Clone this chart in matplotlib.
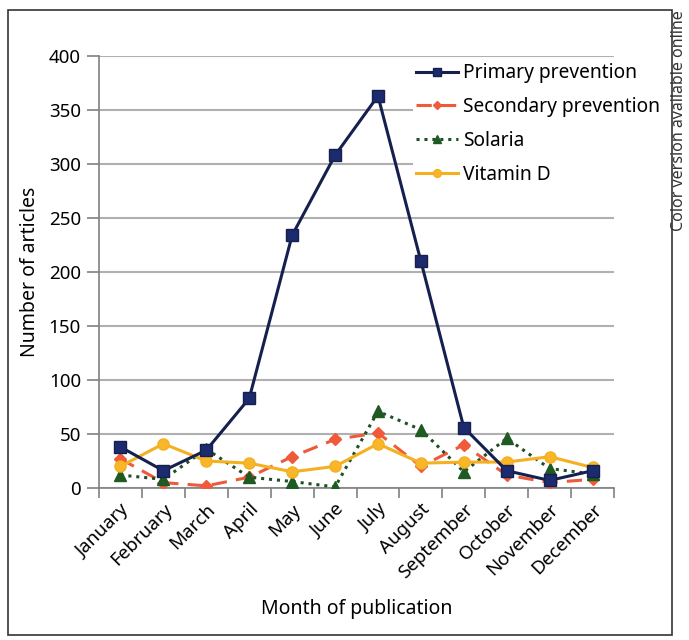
import numpy as np
import matplotlib
matplotlib.use('Agg')
import matplotlib.pyplot as plt
from matplotlib.patches import Rectangle

plt.rcParams['font.family'] = ['Noto Sans', 'DejaVu Sans']

months = ['January', 'February', 'March', 'April', 'May', 'June', 'July',
          'August', 'September', 'October', 'November', 'December']
primary = [38, 16, 35, 83, 234, 308, 363, 210, 56, 16, 7, 16]
secondary = [27, 5, 2, 10, 29, 45, 51, 20, 40, 12, 5, 8]
solaria = [12, 8, 36, 10, 6, 1, 71, 54, 15, 46, 18, 13]
vitamin_d = [20, 41, 25, 23, 15, 20, 41, 23, 24, 24, 29, 19]

fig = plt.figure(figsize=(6.89, 6.4), dpi=100)
ax = fig.add_axes([0.1437, 0.2375, 0.7475, 0.675])

x = np.arange(len(months))
ax.plot(x, primary, color='#15204f', lw=2.2, marker='s', ms=8,
        mfc='#1c2a6e', mec='#15204f', label='Primary prevention', zorder=4)
ax.plot(x, secondary, color='#ee5a3a', lw=2.2, ls=(0, (5, 3)), marker='D', ms=6,
        mfc='#ee5a3a', mec='#ee5a3a', label='Secondary prevention', zorder=3)
ax.plot(x, solaria, color='#1f4f24', lw=2.2, ls=(0, (1, 1.6)), marker='^', ms=8,
        mfc='#1e5a22', mec='#1e5a22', label='Solaria', zorder=3)
ax.plot(x, vitamin_d, color='#f5b020', lw=2.2, marker='o', ms=8,
        mfc='#f8b62a', mec='#f5b020', label='Vitamin D', zorder=3)

ax.set_xlim(-0.5, len(months) - 0.5)
ax.set_ylim(0, 400)
ax.set_yticks(np.arange(0, 401, 50))
ax.yaxis.grid(True, color='#b0b0b0', lw=1.5)
ax.set_axisbelow(True)

ax.set_xticks(x)
ax.set_xticklabels(months, rotation=45, ha='right', rotation_mode='anchor', fontsize=13.5)
ax.set_xticks(np.arange(-0.5, len(months), 1), minor=True)
ax.tick_params(axis='x', which='major', length=0, pad=9)
ax.tick_params(axis='x', which='minor', length=7, color='#808080', width=1.2)
ax.tick_params(axis='y', length=9, color='#808080', width=1.2, labelsize=13.5, pad=4)

for s in ['top', 'right']:
    ax.spines[s].set_visible(False)
for s in ['left', 'bottom']:
    ax.spines[s].set_color('#808080')
    ax.spines[s].set_linewidth(1.2)

ax.set_ylabel('Number of articles', fontsize=14, labelpad=6)
ax.set_xlabel('Month of publication', fontsize=14, labelpad=12)

leg = ax.legend(loc='upper left', bbox_to_anchor=(0.609, 0.992), frameon=True,
                fontsize=13.8, handlelength=2.15, labelspacing=0.72, markerscale=0.7,
                borderaxespad=0.0, borderpad=0.2, handletextpad=0.3)
leg.get_frame().set_edgecolor('none')
leg.get_frame().set_facecolor('white')
leg.get_frame().set_alpha(1)

fig.patches.append(Rectangle((0.0116, 0.008), 0.9634, 0.976, transform=fig.transFigure,
                             fill=False, edgecolor='#333333', lw=1.2))
fig.text(0.986, 0.984, 'Color version available online', rotation=90,
         ha='center', va='top', fontsize=11.5, color='#333333')

fig.savefig('out.png', dpi=100)
